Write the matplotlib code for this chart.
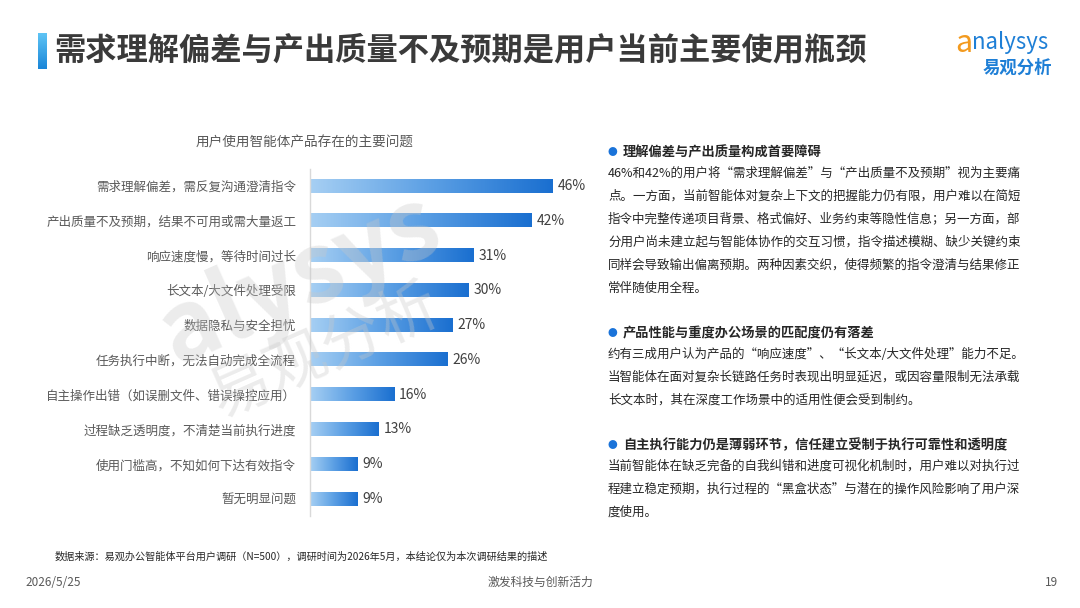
import matplotlib
matplotlib.use('Agg')
import matplotlib.pyplot as plt
import numpy as np
from matplotlib.colors import LinearSegmentedColormap

plt.rcParams['font.family'] = ['Noto Sans CJK SC', 'DejaVu Sans']

title = '需求理解偏差与产出质量不及预期是用户当前主要使用瓶颈'
chart_title = '用户使用智能体产品存在的主要问题'
categories = ['需求理解偏差，需反复沟通澄清指令',
              '产出质量不及预期，结果不可用或需大量返工',
              '响应速度慢，等待时间过长',
              '长文本/大文件处理受限',
              '数据隐私与安全担忧',
              '任务执行中断，无法自动完成全流程',
              '自主操作出错（如误删文件、错误操控应用）',
              '过程缺乏透明度，不清楚当前执行进度',
              '使用门槛高，不知如何下达有效指令',
              '暂无明显问题']
values = [46, 42, 31, 30, 27, 26, 16, 13, 9, 9]

headings = ['理解偏差与产出质量构成首要障碍',
            '产品性能与重度办公场景的匹配度仍有落差',
            '自主执行能力仍是薄弱环节，信任建立受制于执行可靠性和透明度']
paragraphs = [
    ['46%和42%的用户将“需求理解偏差”与“产出质量不及预期”视为主要痛',
     '点。一方面，当前智能体对复杂上下文的把握能力仍有限，用户难以在简短',
     '指令中完整传递项目背景、格式偏好、业务约束等隐性信息；另一方面，部',
     '分用户尚未建立起与智能体协作的交互习惯，指令描述模糊、缺少关键约束',
     '同样会导致输出偏离预期。两种因素交织，使得频繁的指令澄清与结果修正',
     '常伴随使用全程。'],
    ['约有三成用户认为产品的“响应速度”、“长文本/大文件处理”能力不足。',
     '当智能体在面对复杂长链路任务时表现出明显延迟，或因容量限制无法承载',
     '长文本时，其在深度工作场景中的适用性便会受到制约。'],
    ['当前智能体在缺乏完备的自我纠错和进度可视化机制时，用户难以对执行过',
     '程建立稳定预期，执行过程的“黑盒状态”与潜在的操作风险影响了用户深',
     '度使用。'],
]
heading_y = [152, 333, 445]
source = '数据来源：易观办公智能体平台用户调研（N=500），调研时间为2026年5月，本结论仅为本次调研结果的描述'

W, H = 1080, 608
fig = plt.figure(figsize=(W / 100, H / 100), dpi=100)
fig.patch.set_facecolor('white')


def px(x, y):
    return x / W, 1 - y / H


# watermark (behind everything)
fig.text(*px(300, 280), 'alysys', fontsize=70, color='#c8c8c8', alpha=0.35, rotation=24,
         ha='center', va='center', style='italic', fontweight='bold', zorder=0)
fig.text(*px(325, 352), '易观分析', fontsize=44, color='#c8c8c8', alpha=0.35, rotation=24,
         ha='center', va='center', zorder=0)

# title bar accent
acc = fig.add_axes([38 / W, 1 - 69 / H, 8 / W, 36 / H])
acc.axis('off')
grad = np.linspace(0, 1, 50).reshape(-1, 1)
acc.imshow(grad, aspect='auto', cmap=LinearSegmentedColormap.from_list('a', ['#5ec4f5', '#1a86d8']),
           extent=[0, 1, 0, 1])

fig.text(*px(54, 50), title, fontsize=22.5, fontweight='bold', color='#3a3a3a', va='center', ha='left')

# logo
fig.text(*px(955, 43), 'a', fontsize=22, color='#f39a1e', style='italic', va='center', ha='left')
fig.text(*px(972, 42), 'nalysys', fontsize=16, color='#1e7fd6', va='center', ha='left')
fig.text(*px(1017, 68), '易观分析', fontsize=12.5, color='#1e7fd6', fontweight='bold', va='center', ha='center')

# bar chart
ax = fig.add_axes([310 / W, 1 - 516.4 / H, 264 / W, 347.8 / H])
ax.set_facecolor('none')
cmap = LinearSegmentedColormap.from_list('bar', ['#a6cff3', '#5b9fe4', '#1a6fd0'])
gx = np.linspace(0, 1, 200).reshape(1, -1)
bh = 0.19
for i, v in enumerate(values):
    ax.imshow(gx, aspect='auto', cmap=cmap, extent=[0, v, i + bh, i - bh], zorder=2)
    ax.text(v + 0.9, i, f'{v}%', va='center', ha='left', fontsize=10, color='#404040')
ax.set_xlim(0, 50)
ax.set_ylim(len(values) - 0.5, -0.5)
ax.set_yticks(range(len(categories)))
ax.set_yticklabels(categories, fontsize=9, color='#595959')
ax.tick_params(axis='y', length=0, pad=10)
ax.set_xticks([])
for s in ['top', 'right', 'bottom']:
    ax.spines[s].set_visible(False)
ax.spines['left'].set_color('#d9d9d9')
ax.spines['left'].set_linewidth(1)

fig.text(*px(305, 143), chart_title, fontsize=9.8, color='#595959', ha='center', va='center')

# right text
for hy, head, para in zip(heading_y, headings, paragraphs):
    fig.text(*px(612, hy), '●', fontsize=7, color='#1a73d9', ha='center', va='center')
    fig.text(*px(623, hy), head, fontsize=9.5, fontweight='bold', color='#262626', ha='left', va='center')
    for k, line in enumerate(para):
        fig.text(*px(608, hy + 21 + k * 23), line, fontsize=9, color='#262626', ha='left', va='center')

# footer
fig.text(*px(55, 557), source, fontsize=7.3, color='#262626', ha='left', va='center')
fig.text(*px(25, 582), '2026/5/25', fontsize=8.5, color='#595959', ha='left', va='center')
fig.text(*px(540, 582), '激发科技与创新活力', fontsize=8.5, color='#595959', ha='center', va='center')
fig.text(*px(1058, 582), '19', fontsize=8.5, color='#595959', ha='right', va='center')

fig.savefig('out.png', dpi=100)
